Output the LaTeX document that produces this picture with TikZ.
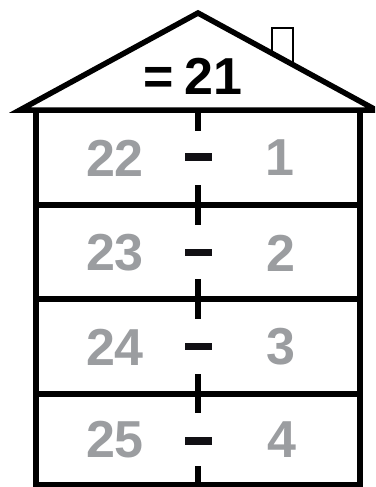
\documentclass[tikz,border=0pt]{standalone}
\usepackage{fontspec}
\setmainfont{Liberation Sans}
\definecolor{numgray}{HTML}{9B9DA0}
\definecolor{dashblk}{HTML}{111014}
\tikzset{
  wall/.style={line width=5.5pt, black},
  roofline/.style={line width=5.5pt, black, line join=miter, miter limit=20},
  chim/.style={line width=2pt, black},
  divider/.style={line width=5.5pt, black},
  num/.style={font=\fontsize{52}{52}\selectfont\bfseries, text=numgray, inner sep=0pt},
  title/.style={font=\fontsize{52}{52}\selectfont\bfseries, text=black, inner sep=0pt},
  minus/.style={rectangle, fill=dashblk, minimum width=27pt, minimum height=7.5pt, inner sep=0pt}
}
\begin{document}
\begin{tikzpicture}[x=1pt,y=-1pt]
\clip (0,0) rectangle (375,487);
\fill[white] (0,0) rectangle (375,487);
% coordinates
\coordinate (apex) at (198,13);
\coordinate (eL) at (20,110);
\coordinate (eR) at (376,110);
\coordinate (wLt) at (36,110);
\coordinate (wLb) at (36,487);
\coordinate (wRt) at (360,110);
\coordinate (wRb) at (360,487);
% chimney
\draw[chim] (272,54) -- (272,28) -- (293,28) -- (293,66);
% roof
\draw[roofline] (eL) -- (apex) -- (eR) -- cycle;
% walls
\draw[wall] (wLt) -- (wLb);
\draw[wall] (wRt) -- (wRb);
% floors
\coordinate (f1L) at (36,205); \coordinate (f1R) at (360,205);
\coordinate (f2L) at (36,299); \coordinate (f2R) at (360,299);
\coordinate (f3L) at (36,394); \coordinate (f3R) at (360,394);
\coordinate (f4L) at (33.25,484.5); \coordinate (f4R) at (362.75,484.5);
\draw[wall] (f1L) -- (f1R);
\draw[wall] (f2L) -- (f2R);
\draw[wall] (f3L) -- (f3R);
\draw[wall] (f4L) -- (f4R);
% middle divider segments
\coordinate (d0a) at (198,110); \coordinate (d0b) at (198,131);
\coordinate (d1a) at (198,185); \coordinate (d1b) at (198,225);
\coordinate (d2a) at (198,279); \coordinate (d2b) at (198,319);
\coordinate (d3a) at (198,374); \coordinate (d3b) at (198,413);
\coordinate (d4a) at (198,466); \coordinate (d4b) at (198,487);
\draw[divider] (d0a) -- (d0b);
\draw[divider] (d1a) -- (d1b);
\draw[divider] (d2a) -- (d2b);
\draw[divider] (d3a) -- (d3b);
\draw[divider] (d4a) -- (d4b);
% title
\node[title] (t) at (193,76) {=\hspace{0.2em}21};
% rows
\node[num] (a1) at (115,158) {22};
\node[minus] (m1) at (198.5,157) {};
\node[num] (b1) at (280,158) {1};
\node[num] (a2) at (115,253) {23};
\node[minus] (m2) at (198.5,252.5) {};
\node[num] (b2) at (281,253) {2};
\node[num] (a3) at (115,347) {24};
\node[minus] (m3) at (198.5,346.5) {};
\node[num] (b3) at (281,347) {3};
\node[num] (a4) at (115,440) {25};
\node[minus] (m4) at (198.5,441) {};
\node[num] (b4) at (282,440) {4};
\end{tikzpicture}
\end{document}
